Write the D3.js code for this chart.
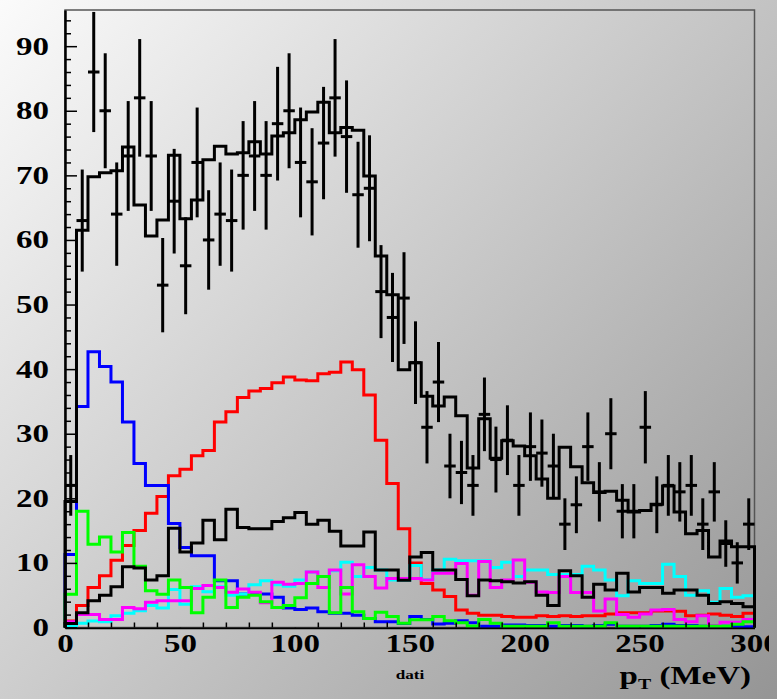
<!DOCTYPE html>
<html>
<head>
<meta charset="utf-8">
<script src="https://cdn.jsdelivr.net/npm/d3@7"></script>
<style>
  html, body { margin: 0; padding: 0; overflow: hidden; }
  svg { display: block; }
  text { font-family: "Liberation Serif", "Times New Roman", serif; font-weight: bold; }
</style>
</head>
<body>
<svg id="chart" width="777" height="699"></svg>
<script>
'use strict';

// 60 bins of 5 MeV, 0..300
const binEdges = d3.range(0, 301, 5);

const dataCounts = [22, 63, 86, 80, 64, 73, 82, 73, 53, 66, 56, 72, 60, 64, 63, 70, 73, 70, 78, 80,
  72, 69, 75, 82, 76, 67, 68, 52, 48, 51, 41, 31, 38, 25, 24, 22, 33, 26, 29, 22,
  28, 27, 25, 16, 19, 28, 21, 30, 18, 18, 31, 19, 22, 21, 22, 16, 21, 13, 10, 16];
const dataErrors = [4.7, 7.9, 9.3, 8.9, 8.0, 8.5, 9.1, 8.5, 7.3, 8.1, 7.5, 8.5, 7.7, 8.0, 7.9, 8.4, 8.5, 8.4, 8.8, 8.9,
  8.5, 8.3, 8.7, 9.1, 8.7, 8.2, 8.2, 7.2, 6.9, 7.1, 6.4, 5.6, 6.2, 5.0, 4.9, 4.7, 5.7, 5.1, 5.4, 4.7,
  5.3, 5.2, 5.0, 4.0, 4.4, 5.3, 4.6, 5.5, 4.2, 4.2, 5.6, 4.4, 4.7, 4.6, 4.7, 4.0, 4.6, 3.6, 3.2, 4.0];

const totalMC = [19.5, 61.5, 69.8, 70.4, 70.7, 74.4, 65.4, 60.6, 63.1, 73.1, 63.3, 66.2, 72.4, 74.5, 73.3, 73.5, 75.2, 73.3, 76.1, 76.6,
  78.6, 79.8, 81.3, 76.6, 77.4, 77.0, 69.9, 57.5, 51.5, 39.9, 41.0, 35.8, 34.3, 35.7, 32.8, 24.7, 32.3, 26.2, 28.9, 28.1,
  26.6, 23.0, 20.0, 27.9, 24.9, 22.4, 20.9, 21.1, 19.7, 17.9, 18.1, 19.1, 21.9, 17.9, 14.5, 15.0, 10.9, 13.4, 12.5, 12.5];

const blueHist = [11.3, 34.2, 42.7, 40.4, 38.0, 31.8, 25.4, 22.0, 22.0, 16.1, 12.4, 11.1, 11.1, 7.25, 7.25, 5.2, 5.2, 5.2, 4.7, 3.0,
  2.8, 3.0, 2.45, 2.2, 2.2, 1.9, 1.4, 0.9, 0.9, 0.6, 1.7, 1.25, 0.55, 0.65, 1.05, 0.75, 0.2, 0.2, 0.4, 0.4,
  0.3, 0.3, 0.2, 0.3, 0.3, 0.2, 0.3, 0.5, 0.2, 0.2, 0.2, 0.3, 0.5, 0.3, 0.3, 0.2, 0.2, 0.2, 0.2, 0.1];

const redHist = [1.0, 3.4, 6.2, 8.0, 10.4, 12.7, 15.0, 17.7, 20.3, 23.5, 24.5, 26.6, 27.4, 31.8, 33.4, 35.6, 36.6, 37.0, 37.9, 38.8,
  38.3, 38.2, 39.3, 39.5, 41.1, 39.9, 36.0, 29.0, 22.3, 15.3, 10.0, 6.8, 5.8, 4.8, 2.7, 2.2, 1.9, 1.9, 1.7, 1.6,
  1.6, 1.8, 1.7, 1.8, 1.7, 1.8, 1.8, 2.1, 2.3, 2.3, 2.3, 2.55, 2.55, 2.5, 1.8, 1.9, 2.1, 1.9, 1.7, 2.2];

const greenHist = [5.15, 18.0, 12.9, 14.0, 11.7, 14.7, 9.5, 5.7, 5.15, 7.35, 6.2, 2.3, 4.7, 7.35, 3.1, 4.7, 5.0, 4.0, 3.1, 3.4,
  4.6, 6.8, 7.9, 2.3, 6.2, 2.45, 1.4, 2.35, 1.7, 0.65, 1.2, 1.2, 1.7, 1.05, 0.75, 0.25, 1.25, 0.65, 0.2, 0.2,
  0.2, 0.2, 0.75, 0.2, 0.2, 0.2, 0.2, 0.75, 0.2, 0.2, 0.2, 0.2, 0.2, 0.2, 0.2, 0.2, 0.2, 0.2, 0.5, 0.9];

const cyanHist = [0.3, 0.65, 1.0, 0.9, 1.8, 2.2, 2.6, 3.4, 3.0, 5.9, 3.6, 6.3, 5.55, 6.3, 5.0, 5.2, 6.6, 7.25, 6.6, 6.4,
  7.35, 8.6, 7.9, 8.8, 10.1, 7.9, 9.3, 8.9, 7.35, 7.35, 9.6, 7.45, 8.9, 10.55, 10.35, 10.35, 10.35, 9.3, 10.1, 7.9,
  8.9, 8.9, 8.2, 8.2, 8.2, 9.5, 8.9, 7.35, 4.9, 7.25, 6.8, 6.8, 9.8, 7.9, 5.0, 5.7, 3.9, 6.05, 4.7, 4.9];

const magentaHist = [0.9, 2.0, 2.0, 1.25, 1.25, 3.1, 2.9, 3.9, 4.15, 4.15, 4.15, 6.05, 6.5, 6.2, 5.45, 5.95, 5.45, 3.85, 7.0, 6.7,
  6.8, 8.6, 6.2, 8.9, 5.2, 9.7, 7.9, 6.1, 7.6, 7.6, 7.6, 7.35, 8.4, 8.4, 9.9, 5.0, 10.2, 6.2, 7.35, 10.45,
  7.0, 5.5, 5.4, 7.9, 5.4, 5.4, 2.55, 4.4, 2.0, 1.6, 2.1, 2.7, 2.8, 1.25, 0.9, 1.8, 0.25, 0.8, 0.8, 1.25];

const blackHist = [0.6, 2.3, 4.15, 5.0, 6.3, 9.4, 9.2, 7.35, 8.0, 15.35, 11.7, 13.1, 16.6, 13.6, 18.3, 15.5, 15.3, 15.3, 16.4, 17.0,
  17.8, 16.0, 16.6, 14.9, 12.6, 12.6, 14.8, 8.9, 8.9, 7.3, 10.9, 11.6, 8.9, 8.9, 7.45, 4.9, 7.35, 7.25, 7.1, 6.9,
  7.1, 5.0, 3.4, 8.8, 8.0, 4.7, 6.7, 5.8, 8.4, 5.5, 6.2, 6.2, 5.3, 5.8, 5.8, 5.0, 3.7, 4.0, 3.7, 3.2];

const components = [
  {values: redHist, color: '#ff0000'},
  {values: blueHist, color: '#0000ff'},
  {values: cyanHist, color: '#00ffff'},
  {values: magentaHist, color: '#ff00ff'},
  {values: greenHist, color: '#00ff00'},
  {values: blackHist, color: '#000000'}
];

const yTicks = [0, 10, 20, 30, 40, 50, 60, 70, 80, 90];
const xTicks = [0, 50, 100, 150, 200, 250, 300];

const width = 777, height = 699;
const textScale = 1.32; // picture is stretched horizontally

const svg = d3.select('#chart');

const defs = svg.append('defs');
const grad = defs.append('linearGradient')
  .attr('id', 'bg')
  .attr('gradientUnits', 'userSpaceOnUse')
  .attr('x1', 0).attr('y1', 0)
  .attr('x2', width).attr('y2', height);
grad.append('stop').attr('offset', '0%').attr('stop-color', '#fbfbfb');
grad.append('stop').attr('offset', '100%').attr('stop-color', '#959595');
defs.append('clipPath').attr('id', 'edgeClip')
  .append('rect').attr('x', 0).attr('y', 0).attr('width', 769).attr('height', height);

svg.append('rect')
  .attr('width', width)
  .attr('height', height)
  .attr('fill', 'url(#bg)');

const x = d3.scaleLinear().domain([0, 300]).range([65, 754.5]);
const y = d3.scaleLinear().domain([0, 95.6]).range([627.5, 10]);

// frame
svg.append('rect')
  .attr('x', x(0))
  .attr('y', y(95.6))
  .attr('width', x(300) - x(0))
  .attr('height', y(0) - y(95.6))
  .attr('fill', 'none')
  .attr('stroke', '#555')
  .attr('stroke-width', 1.5);

// histograms as step outlines
function stepPoints(values) {
  const pts = [[binEdges[0], 0]];
  values.forEach((v, i) => pts.push([binEdges[i], v]));
  pts.push([binEdges[binEdges.length - 1], values[values.length - 1]]);
  pts.push([binEdges[binEdges.length - 1], 0]);
  return pts;
}

const stepLine = d3.line()
  .x((d) => x(d[0]))
  .y((d) => y(d[1]))
  .curve(d3.curveStepAfter);

const plot = svg.append('g');

plot.selectAll('.comp')
  .data(components)
  .enter().append('path')
    .attr('class', 'comp')
    .attr('d', (d) => stepLine(stepPoints(d.values)))
    .attr('fill', 'none')
    .attr('stroke', (d) => d.color)
    .attr('stroke-width', 3);

plot.append('path')
  .attr('d', stepLine(stepPoints(totalMC)))
  .attr('fill', 'none')
  .attr('stroke', '#000')
  .attr('stroke-width', 3);

// data points with error bars
const points = plot.selectAll('.pt')
  .data(dataCounts)
  .enter().append('g')
    .attr('class', 'pt');

points.append('line')
  .attr('x1', (d, i) => x(binEdges[i] + 2.5))
  .attr('x2', (d, i) => x(binEdges[i] + 2.5))
  .attr('y1', (d, i) => y(d - dataErrors[i]))
  .attr('y2', (d, i) => y(d + dataErrors[i]))
  .attr('stroke', '#000')
  .attr('stroke-width', 3);

points.append('line')
  .attr('x1', (d, i) => x(binEdges[i]))
  .attr('x2', (d, i) => x(binEdges[i + 1]))
  .attr('y1', (d) => y(d))
  .attr('y2', (d) => y(d))
  .attr('stroke', '#000')
  .attr('stroke-width', 3);

// axes
const yMinor = d3.range(0, 95, 2).filter((v) => v % 10 !== 0);
const xMinor = d3.range(0, 301, 10).filter((v) => v % 50 !== 0);

svg.append('g')
  .attr('transform', `translate(${x(0)},0)`)
  .call(d3.axisLeft(y).tickValues(yMinor).tickSize(-6).tickSizeOuter(0).tickFormat(''))
  .call((g) => g.select('.domain').remove())
  .selectAll('line').attr('stroke', '#000').attr('stroke-width', 1.5);

const yAxis = svg.append('g')
  .attr('transform', `translate(${x(0)},0)`)
  .call(d3.axisLeft(y).tickValues(yTicks).tickSize(-12).tickSizeOuter(0).tickPadding(16));
yAxis.select('.domain').attr('stroke', '#000').attr('stroke-width', 2.5);
yAxis.selectAll('line').attr('stroke', '#000').attr('stroke-width', 1.5);
yAxis.selectAll('text')
  .attr('x', -16 / textScale)
  .attr('transform', `scale(${textScale},1)`)
  .attr('fill', '#000')
  .style('font-size', '25px');

svg.append('g')
  .attr('transform', `translate(0,${y(0)})`)
  .call(d3.axisBottom(x).tickValues(xMinor).tickSize(-5).tickSizeOuter(0).tickFormat(''))
  .call((g) => g.select('.domain').remove())
  .selectAll('line').attr('stroke', '#000').attr('stroke-width', 1.5);

const xAxis = svg.append('g')
  .attr('transform', `translate(0,${y(0)})`)
  .attr('clip-path', 'url(#edgeClip)')
  .call(d3.axisBottom(x).tickValues(xTicks).tickSize(-10).tickSizeOuter(0).tickPadding(7));
xAxis.select('.domain').attr('stroke', '#000').attr('stroke-width', 2.5);
xAxis.selectAll('line').attr('stroke', '#000').attr('stroke-width', 1.5);
xAxis.selectAll('text')
  .attr('transform', `scale(${textScale},1)`)
  .attr('fill', '#000')
  .style('font-size', '25px');

// labels
svg.append('text')
  .attr('transform', `translate(410,679) scale(${textScale},1)`)
  .attr('text-anchor', 'middle')
  .style('font-size', '13px')
  .text('dati');

const title = svg.append('text')
  .attr('transform', `translate(751,684) scale(${textScale},1)`)
  .attr('text-anchor', 'end')
  .style('font-size', '25px');
title.append('tspan').text('p');
title.append('tspan').attr('dy', 5).style('font-size', '15px').text('T');
title.append('tspan').attr('dy', -5).text(' (MeV)');
</script>
</body>
</html>
